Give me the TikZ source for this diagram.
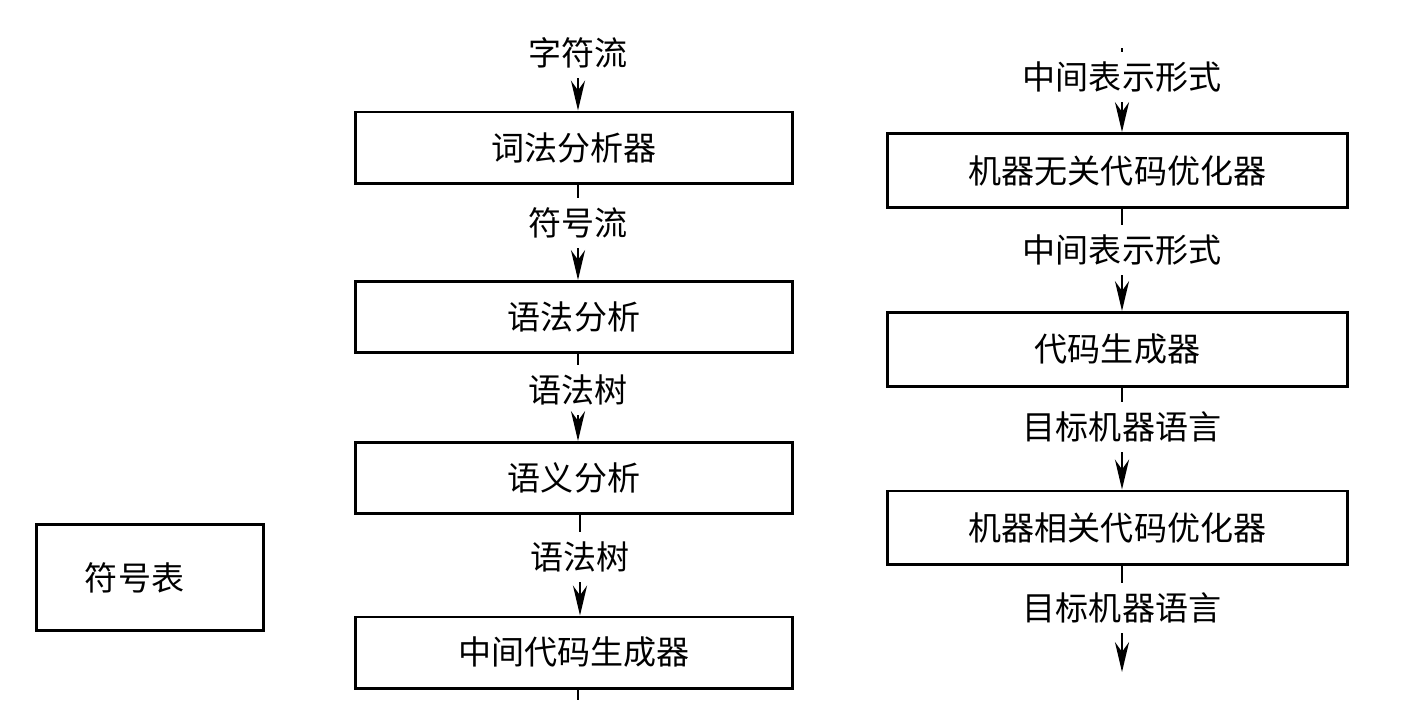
\documentclass[tikz,border=0pt]{standalone}
\usepackage{fontspec}
\setmainfont{Noto Sans CJK SC}
\usetikzlibrary{arrows.meta}

\begin{document}
\begin{tikzpicture}[x=0.01cm,y=-0.01cm,
  font=\fontsize{9.4pt}{11pt}\selectfont,
  stage/.style={draw,line width=0.85pt,minimum height=0.71cm,inner sep=2pt},
  stageL/.style={stage,minimum width=4.37cm},
  stageR/.style={stage,minimum width=4.59cm,minimum height=0.74cm},
  flow/.style={inner sep=2.6pt},
  link/.style={line width=0.65pt},
  feed/.style={link,-{Stealth[length=8.5pt,width=4pt]}}]
  \useasboundingbox (0,0) rectangle (1409,720);
  \node[flow] (chars) at (578,53) {字符流};
  \node[stageL] (lex) at (574,147.5) {词法分析器};
  \node[flow] (tokens) at (578,223) {符号流};
  \node[stageL] (parse) at (574,317) {语法分析};
  \node[flow] (tree1) at (578,390) {语法树};
  \node[stageL] (sema) at (574,478) {语义分析};
  \node[flow] (tree2) at (580,557) {语法树};
  \node[stageL] (icg) at (574,652.5) {中间代码生成器};
  \coordinate (icgout) at (578,700);
  \draw[feed] (chars) -- (chars |- lex.north);
  \draw[link] (lex.south -| tokens) -- (tokens);
  \draw[feed] (tokens) -- (tokens |- parse.north);
  \draw[link] (parse.south -| tree1) -- (tree1);
  \draw[feed] (tree1) -- (tree1 |- sema.north);
  \draw[link] (sema.south -| tree2) -- (tree2);
  \draw[feed] (tree2) -- (tree2 |- icg.north);
  \draw[link] (icg.south -| icgout) -- (icgout);

  \coordinate (irin) at (1122,48);
  \node[flow] (ir1) at (1122,77) {中间表示形式};
  \node[stageR] (mio) at (1117.5,170.5) {机器无关代码优化器};
  \node[flow] (ir2) at (1122,250) {中间表示形式};
  \node[stageR] (cg) at (1117.5,349.5) {代码生成器};
  \node[flow] (tm1) at (1122,427) {目标机器语言};
  \node[stageR,minimum height=0.73cm] (mdo) at (1117.5,527.5) {机器相关代码优化器};
  \node[flow] (tm2) at (1122,608) {目标机器语言};
  \coordinate (tmout) at (1122,672);
  \draw[link] (irin) -- (ir1);
  \draw[feed] (ir1) -- (ir1 |- mio.north);
  \draw[link] (mio.south -| ir2) -- (ir2);
  \draw[feed] (ir2) -- (ir2 |- cg.north);
  \draw[link] (cg.south -| tm1) -- (tm1);
  \draw[feed] (tm1) -- (tm1 |- mdo.north);
  \draw[link] (mdo.south -| tm2) -- (tm2);
  \draw[feed] (tm2) -- (tmout);

  \node[stage,minimum width=2.26cm,minimum height=1.05cm,text width=1.9cm,align=left] (symtab) at (150,577.5) {\hspace*{0.3cm}符号表};
\end{tikzpicture}
\end{document}
